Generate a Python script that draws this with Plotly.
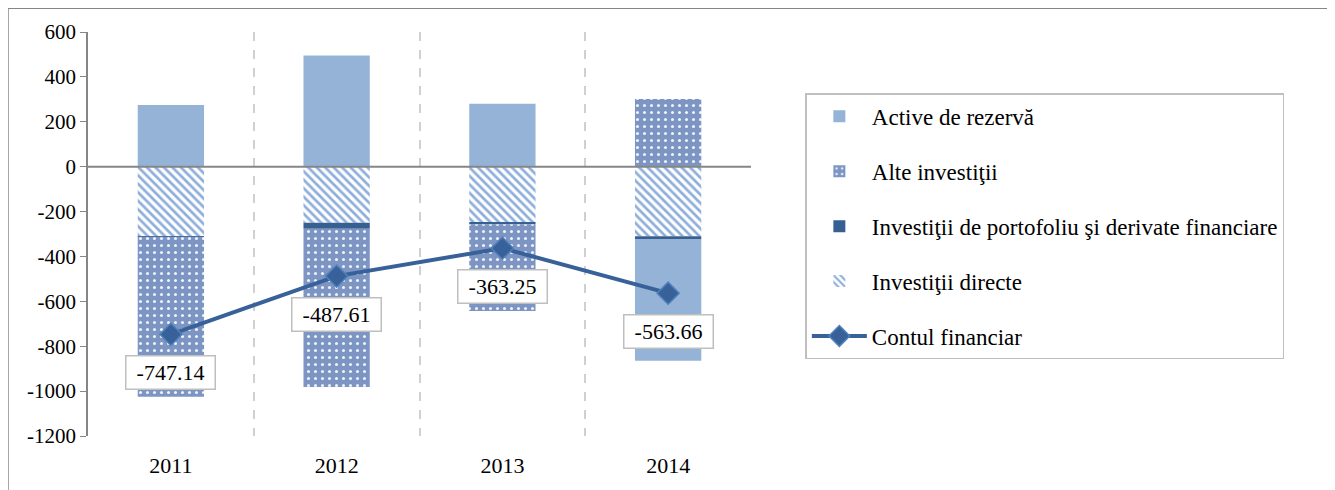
import plotly.graph_objects as go

# date (mil. euro)
ani = ["2011", "2012", "2013", "2014"]
investitii_directe = [-310, -250, -250, -310]
investitii_portofoliu = [-2, -27, -8, -15]
alte_investitii = [-713, -705, -385, 301]
active_rezerva = [275, 495, 280, -540]
contul_financiar = [-747.14, -487.61, -363.25, -563.66]
y_ticks = [600, 400, 200, 0, -200, -400, -600, -800, -1000, -1200]
y_tick_text = ["600", "400", "200", "0", "-200", "-400", "-600", "-800", "-1000", "-1200"]

font_serif = "Liberation Serif, Times New Roman, serif"

fig = go.Figure()

# ordinea de stivuire: directe, portofoliu, alte, active
fig.add_trace(go.Bar(
    x=ani, y=investitii_directe, name="Investiţii directe",
    legendgroup="d", legendrank=4, width=0.4,
    marker=dict(color="white", line=dict(width=0),
                pattern=dict(shape="\\", fgcolor="#8EAEDB", bgcolor="white",
                             size=6, solidity=0.45, fillmode="replace")),
))
fig.add_trace(go.Bar(
    x=ani, y=investitii_portofoliu, name="Investiţii de portofoliu şi derivate financiare",
    legendgroup="p", legendrank=3, width=0.4,
    marker=dict(color="#376092", line=dict(width=0)),
))
fig.add_trace(go.Bar(
    x=ani, y=alte_investitii, name="Alte investiţii",
    legendgroup="a", legendrank=2, width=0.4,
    marker=dict(color="#8099C6", line=dict(width=0),
                pattern=dict(shape=".", fgcolor="#EEF2F9", bgcolor="#7C95C3",
                             size=7, solidity=0.15, fillmode="replace")),
))
fig.add_trace(go.Bar(
    x=ani, y=active_rezerva, name="Active de rezervă",
    legendgroup="r", legendrank=1, width=0.4,
    marker=dict(color="#95B3D7", line=dict(width=0)),
))
fig.add_trace(go.Scatter(
    x=ani, y=contul_financiar, name="Contul financiar",
    legendgroup="c", legendrank=5, mode="lines+markers",
    line=dict(color="#386199", width=4),
    marker=dict(symbol="diamond", size=17, color="#386199",
                line=dict(color="#4F81BD", width=1.5)),
))

# etichete cu valoarea contului financiar (x = indexul categoriei)
for i, v in enumerate(contul_financiar):
    fig.add_annotation(
        x=i, y=v, text=f"{v:.2f}", showarrow=False, yshift=-38,
        width=82, height=26,
        font=dict(family=font_serif, size=22, color="black"),
        bgcolor="white", bordercolor="#BFBFBF", borderwidth=1.5, borderpad=3,
    )

# linia de zero peste bare
fig.add_shape(type="line", xref="x", yref="y", x0=-0.5, x1=3.5, y0=0, y1=0,
              line=dict(color="#868686", width=2), layer="above")

# chenarul exterior
fig.add_shape(type="rect", xref="paper", yref="paper",
              x0=-0.1207, x1=1.9, y0=-0.2, y1=1.059,
              line=dict(color="#868686", width=1.5), layer="below")

fig.update_layout(
    width=1327, height=482,
    barmode="relative",
    plot_bgcolor="white", paper_bgcolor="white",
    margin=dict(l=80, r=584, t=23, b=53),
    font=dict(family=font_serif, color="black"),
    showlegend=True,
    legend=dict(
        x=1.082, y=0.848, xanchor="left", yanchor="top",
        traceorder="grouped", tracegroupgap=22,
        bordercolor="#BFBFBF", borderwidth=1.5, bgcolor="white",
        font=dict(family=font_serif, size=23, color="black"),
        itemwidth=55,
    ),
)

fig.update_xaxes(
    type="category", range=[-0.5, 3.5],
    showline=False, ticks="", tickson="boundaries",
    showgrid=True, gridcolor="#D0D0D0", gridwidth=1.5, griddash="dash",
    tickfont=dict(family=font_serif, size=22, color="black"),
    ticklabelstandoff=14,
)
fig.update_yaxes(
    range=[-1200, 600], tickvals=y_ticks, ticktext=y_tick_text,
    showgrid=False, zeroline=False,
    showline=True, linecolor="#868686", linewidth=1.5,
    ticks="outside", ticklen=6, tickcolor="#868686",
    tickfont=dict(family=font_serif, size=21, color="black"),
)

fig.write_html("out.html")
